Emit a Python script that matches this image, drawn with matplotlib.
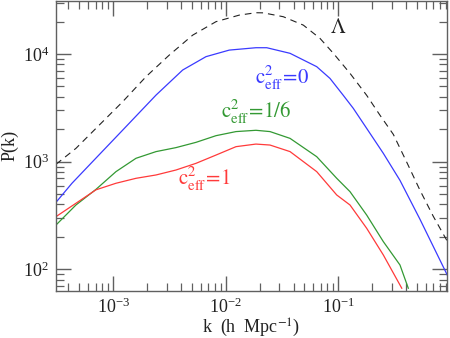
import numpy as np
import matplotlib
matplotlib.use("Agg")
import matplotlib.pyplot as plt
from matplotlib.ticker import LogLocator, NullFormatter

plt.rcParams['font.family'] = ['Liberation Serif', 'DejaVu Serif']
plt.rcParams['mathtext.fontset'] = 'stix'

# log10 k and log10 P(k)
lam_logk = [-3.509, -3.332, -3.124, -2.916, -2.709, -2.502, -2.294, -2.087, -1.880, -1.732, -1.667,
            -1.489, -1.311, -1.163, -1.044, -0.896, -0.748, -0.629, -0.511, -0.392, -0.274, -0.156, -0.036]
lam_logp = [2.975, 3.123, 3.340, 3.557, 3.789, 3.990, 4.175, 4.300, 4.361, 4.383, 4.382,
            4.346, 4.268, 4.145, 4.006, 3.820, 3.616, 3.430, 3.253, 2.995, 2.734, 2.492, 2.269]

c0_logk = [-3.509, -3.367, -3.213, -2.916, -2.620, -2.383, -2.176, -1.969, -1.732, -1.636, -1.429,
           -1.192, -1.074, -0.956, -0.867, -0.748, -0.600, -0.452, -0.274, -0.096, -0.022]
c0_logp = [2.622, 2.799, 2.968, 3.293, 3.618, 3.851, 3.975, 4.036, 4.058, 4.058, 4.006,
           3.882, 3.773, 3.616, 3.495, 3.309, 3.077, 2.826, 2.464, 2.084, 1.926]

c16_logk = [-3.509, -3.332, -3.154, -2.976, -2.798, -2.620, -2.443, -2.265, -2.087, -1.909, -1.732,
            -1.607, -1.429, -1.192, -1.014, -0.896, -0.748, -0.600, -0.452, -0.378]
c16_logp = [2.411, 2.597, 2.742, 2.907, 3.031, 3.093, 3.130, 3.179, 3.241, 3.279, 3.291,
            3.279, 3.216, 3.046, 2.845, 2.721, 2.504, 2.257, 2.040, 1.824]

c1_logk = [-3.509, -3.332, -3.154, -2.976, -2.798, -2.620, -2.443, -2.265, -2.087, -1.909, -1.732,
           -1.607, -1.429, -1.192, -1.014, -0.896, -0.748, -0.600, -0.436]
c1_logp = [2.489, 2.613, 2.738, 2.799, 2.845, 2.876, 2.922, 2.984, 3.061, 3.139, 3.163,
           3.154, 3.093, 2.907, 2.690, 2.597, 2.381, 2.133, 1.824]

xlim = (10**-3.509, 10**-0.034)
ylim = (10**1.801, 10**4.492)

fig = plt.figure(figsize=(4.5, 3.38), dpi=100)
ax = fig.add_axes([56/450, 1-290.7/338, (447-56)/450, (290.7-1)/338])

def p(lk, lp):
    return 10**np.array(lk), 10**np.array(lp)

ax.plot(*p(lam_logk, lam_logp), color='#222222', lw=0.8, dashes=(6, 4.5))
ax.plot(*p(c0_logk, c0_logp), color='#3a3aff', lw=0.9)
ax.plot(*p(c16_logk, c16_logp), color='#339933', lw=0.9)
ax.plot(*p(c1_logk, c1_logp), color='#ff3a3a', lw=0.9)

ax.set_xscale('log')
ax.set_yscale('log')
ax.set_xlim(*xlim)
ax.set_ylim(*ylim)

ax.xaxis.set_major_locator(LogLocator(base=10, numticks=10))
ax.xaxis.set_minor_locator(LogLocator(base=10, subs=np.arange(2, 10), numticks=20))
ax.yaxis.set_major_locator(LogLocator(base=10, numticks=10))
ax.yaxis.set_minor_locator(LogLocator(base=10, subs=np.arange(2, 10), numticks=20))
ax.xaxis.set_minor_formatter(NullFormatter())
ax.yaxis.set_minor_formatter(NullFormatter())

axcol = '#606060'
for s in ax.spines.values():
    s.set_color(axcol)
    s.set_linewidth(1.0)
ax.tick_params(which='both', direction='in', top=True, right=True, color=axcol, labelsize=13, labelcolor='#222222')
ax.tick_params(which='major', length=11, width=1.0, pad=5)
ax.tick_params(which='minor', length=6, width=0.9)

ax.set_xlabel(r'k  (h  Mpc$^{-1}$)', fontsize=13, color='#222222', labelpad=0)
ax.set_ylabel('P(k)', fontsize=13, color='#222222', labelpad=3)

ax.text(10**(-3 + (338.3-113.3)/112.5), 10**(3 + (163.3-30)/107.7), r'$\Lambda$', fontsize=15, color='#222222', ha='center', va='center')
ax.text(10**(-3 + (282-113.3)/112.5), 10**(3 + (163.3-80)/107.7), r'$\mathrm{c}^{2}_{\mathrm{eff}}\!=\!0$', fontsize=15, color='#3a3aff', ha='center', va='center')
ax.text(10**(-3 + (256-113.3)/112.5), 10**(3 + (163.3-114)/107.7), r'$\mathrm{c}^{2}_{\mathrm{eff}}\!=\!1/6$', fontsize=15, color='#339933', ha='center', va='center')
ax.text(10**(-3 + (204-113.3)/112.5), 10**(3 + (163.3-181)/107.7), r'$\mathrm{c}^{2}_{\mathrm{eff}}\!=\!1$', fontsize=15, color='#ff3a3a', ha='center', va='center')

fig.savefig('out.png', dpi=100)
